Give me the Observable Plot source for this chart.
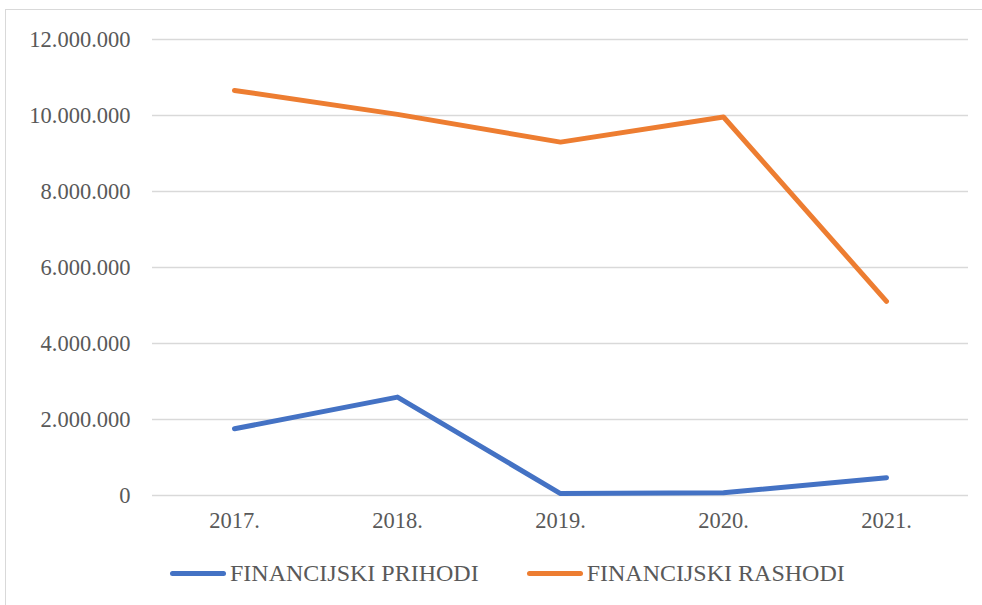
<!DOCTYPE html>
<html>
<head>
<meta charset="utf-8">
<script src="https://cdn.jsdelivr.net/npm/d3@7"></script>
<script src="https://cdn.jsdelivr.net/npm/@observablehq/plot@0.6"></script>
<style>
  html, body { margin: 0; padding: 0; background: #fff; overflow: hidden; width: 982px; height: 605px; }
  #frame { position: absolute; left: 5px; top: 9px; width: 1100px; height: 700px; border: 1.5px solid #d9d9d9; box-sizing: border-box; }
  #chart { position: absolute; left: 0; top: 0; }
  #legend { position: absolute; left: 170px; top: 560px; display: flex; align-items: center; font-family: "Liberation Serif", "Times New Roman", serif; font-size: 24px; color: #595959; }
  .item { display: flex; align-items: center; }
  .sw { width: 56px; height: 5px; border-radius: 3px; margin-right: 4px; }
</style>
</head>
<body>
<div id="frame"></div>
<div id="chart"></div>
<div id="legend"></div>
<script>
const years = ["2017.", "2018.", "2019.", "2020.", "2021."];
const prihodi = [1755000, 2590000, 50000, 70000, 470000];
const rashodi = [10660000, 10030000, 9300000, 9960000, 5110000];
const seriesNames = ["FINANCIJSKI PRIHODI", "FINANCIJSKI RASHODI"];
const seriesColors = ["#4472C4", "#ED7D31"];
const yTicks = [0, 2000000, 4000000, 6000000, 8000000, 10000000, 12000000];

const data = [];
years.forEach((y, i) => data.push({year: y, value: prihodi[i], series: seriesNames[0]}));
years.forEach((y, i) => data.push({year: y, value: rashodi[i], series: seriesNames[1]}));

const fmt = v => d3.format(",")(v).replace(/,/g, ".");

const plot = Plot.plot({
  width: 982,
  height: 540,
  marginTop: 39,
  marginBottom: 45,
  marginLeft: 152,
  marginRight: 14,
  style: { fontFamily: "'Liberation Serif', 'Times New Roman', serif", fontSize: "22.5px", color: "#595959", background: "transparent" },
  x: { type: "point", domain: years, padding: 0.5, label: null, tickSize: 0, tickPadding: 17 },
  y: { domain: [0, 12000000], ticks: yTicks, tickFormat: fmt, label: null, tickSize: 0, tickPadding: 22 },
  color: { domain: seriesNames, range: seriesColors },
  marks: [
    Plot.ruleY(yTicks, { stroke: "#d9d9d9", strokeWidth: 1.5 }),
    Plot.axisX({ tickSize: 0, tickPadding: 17, label: null, fill: "#595959" }),
    Plot.axisY({ ticks: yTicks, tickFormat: fmt, tickSize: 0, tickPadding: 22, label: null, fill: "#595959" }),
    Plot.line(data, { x: "year", y: "value", z: "series", stroke: "series", strokeWidth: 5, strokeLinecap: "round", strokeLinejoin: "round" })
  ]
});
document.getElementById("chart").appendChild(plot);

const legend = document.getElementById("legend");
seriesNames.forEach((name, i) => {
  const item = document.createElement("div");
  item.className = "item";
  if (i > 0) item.style.marginLeft = "48px";
  const sw = document.createElement("div");
  sw.className = "sw";
  sw.style.background = seriesColors[i];
  const t = document.createElement("span");
  t.textContent = name;
  item.appendChild(sw);
  item.appendChild(t);
  legend.appendChild(item);
});
</script>
</body>
</html>
